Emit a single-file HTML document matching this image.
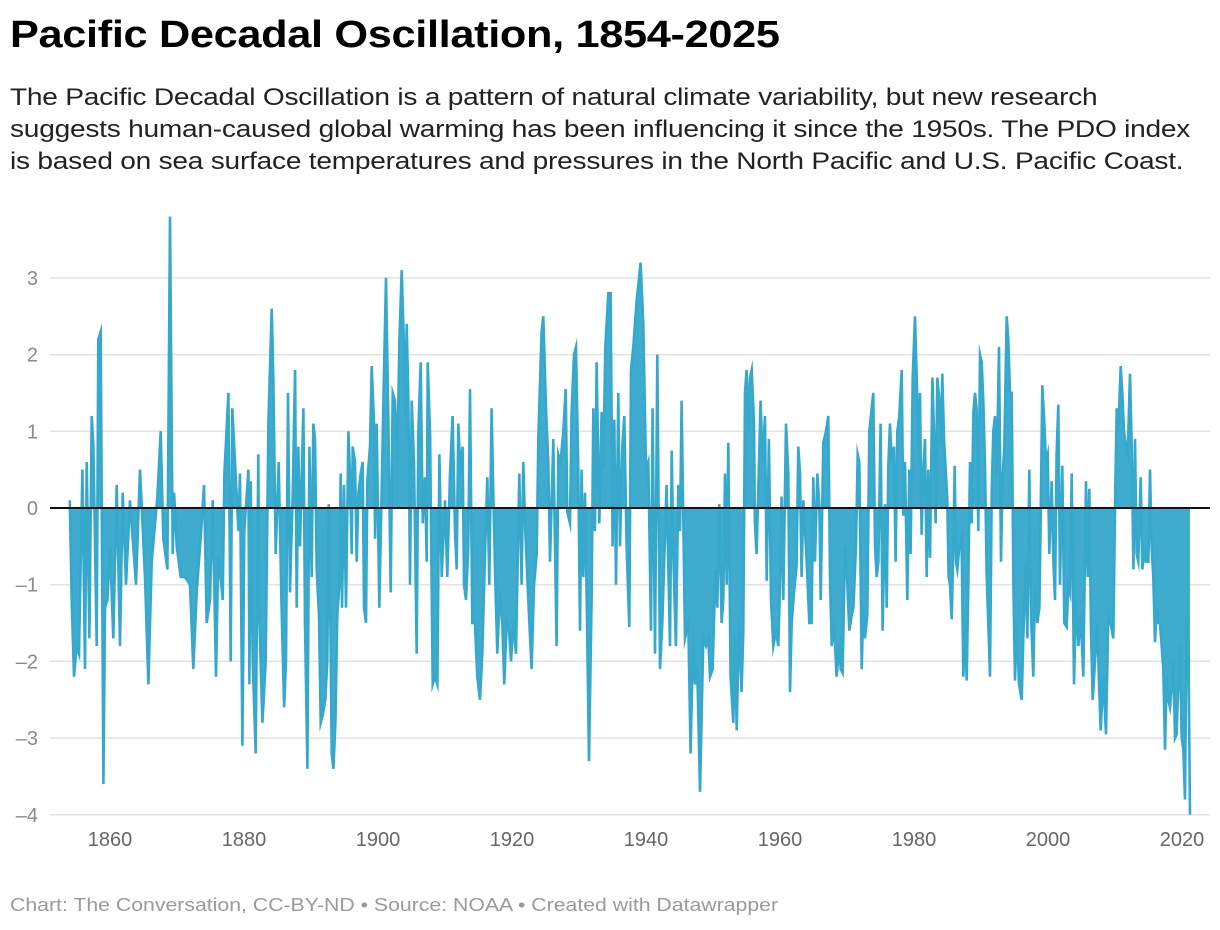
<!DOCTYPE html>
<html><head><meta charset="utf-8">
<style>
body{margin:0;background:#fff;font-family:"Liberation Sans",sans-serif;}
#wrap{position:relative;width:1220px;height:930px;overflow:hidden;}
h1{position:absolute;left:10px;top:14px;margin:0;font-size:38px;font-weight:bold;color:#000;white-space:nowrap;letter-spacing:-0.3px;transform:scaleX(1.14);transform-origin:0 0}
#sub{position:absolute;left:10px;top:82px;margin:0;font-size:24px;line-height:32px;color:#222;white-space:nowrap;letter-spacing:-0.2px;transform:scaleX(1.17);transform-origin:0 0}
#foot{position:absolute;left:10px;top:895px;font-size:18px;color:#9a9a9a;white-space:nowrap;transform:scaleX(1.18);transform-origin:0 0}
svg{position:absolute;left:0;top:0}
</style></head><body>
<div id="wrap">
<h1>Pacific Decadal Oscillation, 1854-2025</h1>
<p id="sub">The Pacific Decadal Oscillation is a pattern of natural climate variability, but new research<br>suggests human-caused global warming has been influencing it since the 1950s. The PDO index<br>is based on sea surface temperatures and pressures in the North Pacific and U.S. Pacific Coast.</p>
<svg id="chart" width="1220" height="930"></svg>
<div id="foot">Chart: The Conversation, CC-BY-ND • Source: NOAA • Created with Datawrapper</div>
</div>
<script>
const yTicks=[-4,-3,-2,-1,0,1,2,3];
const yTickLabels=["\u20134","\u20133","\u20132","\u20131","0","1","2","3"];
const xTicks=[1860,1880,1900,1920,1940,1960,1980,2000,2020];
const pdoYears=[1854.0,1854.28,1854.63,1855.03,1855.38,1855.88,1856.27,1856.52,1856.92,1857.27,1857.52,1858.01,1858.26,1858.61,1859.01,1859.26,1859.61,1860.0,1860.5,1861.0,1861.5,1861.9,1862.39,1862.99,1863.88,1864.48,1865.23,1865.73,1866.22,1867.07,1867.57,1867.96,1868.56,1868.96,1869.36,1869.56,1869.95,1870.55,1871.2,1871.94,1872.44,1872.94,1873.69,1874.03,1874.43,1874.93,1875.33,1875.82,1876.17,1876.82,1877.07,1877.67,1878.01,1878.26,1878.66,1879.16,1879.41,1879.76,1880.05,1880.65,1880.8,1881.0,1881.3,1881.75,1882.14,1882.29,1882.74,1883.24,1883.64,1884.13,1884.38,1884.73,1885.18,1885.58,1885.98,1886.27,1886.57,1886.87,1887.27,1887.62,1887.87,1888.12,1888.36,1888.86,1889.11,1889.46,1889.76,1890.1,1890.35,1890.6,1890.85,1891.2,1891.45,1891.75,1892.14,1892.44,1892.64,1892.84,1893.09,1893.34,1893.64,1893.93,1894.23,1894.43,1894.63,1894.93,1895.23,1895.58,1895.83,1896.07,1896.22,1896.57,1896.82,1897.07,1897.42,1897.72,1897.91,1898.21,1898.41,1898.81,1899.06,1899.41,1899.56,1899.81,1900.2,1900.55,1900.8,1901.2,1901.55,1901.9,1902.19,1902.54,1902.89,1903.19,1903.54,1903.88,1904.08,1904.28,1904.53,1904.78,1905.03,1905.38,1905.77,1906.02,1906.37,1906.67,1907.02,1907.27,1907.42,1907.77,1908.16,1908.51,1908.86,1909.16,1909.51,1910.0,1910.35,
1910.74,1911.14,1911.49,1911.74,1911.99,1912.33,1912.63,1912.83,1913.13,1913.48,1913.73,1914.08,1914.47,1914.82,1915.22,1915.57,1915.97,1916.31,1916.61,1916.96,1917.21,1917.46,1917.81,1918.2,1918.55,1918.85,1919.2,1919.55,1919.85,1920.2,1920.59,1921.09,1921.44,1921.69,1921.99,1922.43,1922.93,1923.28,1923.68,1923.93,1924.42,1924.67,1925.07,1925.42,1925.67,1926.17,1926.66,1926.91,1927.26,1927.66,1928.01,1928.25,1928.65,1928.9,1929.25,1929.55,1929.9,1930.15,1930.39,1930.64,1930.89,1931.14,1931.49,1931.89,1932.14,1932.38,1932.63,1933.03,1933.38,1933.63,1933.93,1934.37,1934.72,1935.02,1935.27,1935.52,1935.87,1936.12,1936.46,1936.76,1937.11,1937.51,1937.76,1938.11,1938.6,1938.85,1939.2,1939.6,1940.0,1940.34,1940.74,1940.99,1941.34,1941.69,1942.09,1942.43,1943.08,1943.58,1943.83,1944.08,1944.47,1944.82,1945.07,1945.32,1945.82,1946.31,1946.66,1947.06,1947.31,1947.66,1948.06,1948.55,1948.95,1949.3,1949.55,1949.95,1950.34,1950.64,1950.94,1951.29,1951.54,1951.79,1952.04,1952.28,1952.63,1953.03,1953.28,1953.53,1953.88,1954.27,1954.52,1954.77,1955.02,1955.27,1955.52,1955.77,1956.12,1956.26,1956.51,1956.76,1957.11,1957.41,1957.76,1958.01,1958.35,1958.65,1959.0,1959.4,1959.75,1960.0,1960.24,1960.49,1960.89,1961.24,1961.49,1961.74,1962.09,1962.48,1962.73,1962.98,1963.23,1963.48,1963.98,1964.37,1964.72,1964.97,1965.22,1965.57,1965.87,1966.07,1966.46,1966.86,1967.21,1967.46,1967.71,1968.06,1968.45,1968.95,
1969.05,1969.35,1969.7,1969.95,1970.35,1970.7,1970.95,1971.34,1971.59,1971.84,1972.19,1972.44,1972.69,1973.03,1973.33,1973.68,1973.93,1974.18,1974.43,1974.68,1975.02,1975.32,1975.67,1975.92,1976.17,1976.42,1976.67,1977.01,1977.26,1977.51,1977.81,1978.16,1978.41,1978.66,1979.0,1979.3,1979.5,1979.8,1980.15,1980.4,1980.65,1980.9,1981.14,1981.39,1981.64,1981.89,1982.14,1982.39,1982.74,1982.98,1983.23,1983.48,1983.73,1983.98,1984.23,1984.48,1984.73,1984.97,1985.17,1985.37,1985.62,1985.87,1986.07,1986.27,1986.47,1986.77,1987.11,1987.36,1987.61,1987.86,1988.11,1988.36,1988.61,1988.86,1989.1,1989.35,1989.6,1989.85,1990.1,1990.35,1990.6,1990.85,1991.09,1991.34,1991.59,1991.84,1992.09,1992.34,1992.69,1992.98,1993.23,1993.48,1993.83,1994.08,1994.33,1994.58,1994.83,1995.08,1995.32,1995.67,1996.07,1996.32,1996.67,1996.92,1997.21,1997.46,1997.81,1998.06,1998.41,1998.71,1998.9,1999.15,1999.4,1999.7,1999.95,2000.2,2000.55,2000.8,2001.05,2001.29,2001.54,2001.79,2002.14,2002.44,2002.79,2003.03,2003.28,2003.53,2003.88,2004.18,2004.53,2004.88,2005.27,2005.67,2005.92,2006.17,2006.42,2006.67,2007.02,2007.36,2007.66,2007.86,2008.26,2008.66,2009.0,2009.35,2009.75,2010.05,2010.25,2010.5,2010.85,2011.09,2011.34,2011.64,2011.89,2012.24,2012.49,2012.74,2012.98,2013.23,2013.48,2013.83,2014.08,2014.33,2014.63,2014.98,2015.23,2015.47,2015.72,2015.97,2016.22,2016.47,2016.72,2016.97,2017.21,2017.46,2017.71,2017.96,2018.21,2018.46,2018.71,2018.96,2019.2,2019.45,2019.7,2019.95,2020.2,2020.45,2020.7,2020.95,2021.2];
const pdoValues=[0.1,-1.2,-2.2,-1.8,-1.9,0.5,-2.1,0.6,-1.7,1.2,0.8,-1.8,2.2,2.3,-3.6,-1.3,-1.2,-0.5,-1.7,0.3,-1.8,0.2,-1.0,0.1,-1.0,0.5,-0.9,-2.3,-0.7,0.15,1.0,-0.4,-0.8,3.8,-0.6,0.2,-0.5,-0.9,-0.9,-1.0,-2.1,-1.1,-0.2,0.3,-1.5,-1.2,0.1,-2.2,-0.6,-1.2,0.45,1.5,-2.0,1.3,0.6,-0.3,0.45,-3.1,-0.3,0.5,-2.3,0.35,-2.0,-3.2,0.7,-1.4,-2.8,-2.0,1.1,2.6,1.7,-0.6,0.6,-1.2,-2.6,-2.0,1.5,-1.1,0.2,1.8,-1.3,0.8,-0.5,1.3,-1.5,-3.4,0.8,-0.9,1.1,0.9,-0.8,-1.4,-2.8,-2.7,-2.5,-2.0,0.05,-1.0,-3.2,-3.4,-2.8,-1.4,-1.0,0.45,-1.3,0.3,-1.3,1.0,0.4,-0.6,0.8,0.6,-0.7,0.2,0.45,0.6,-1.3,-1.5,0.35,0.8,1.85,1.1,-0.4,1.1,-1.3,0.25,1.4,3.0,1.1,-1.1,1.5,1.4,0.6,2.2,3.1,2.1,1.2,2.4,1.4,-1.0,1.4,0.6,-1.9,1.0,1.9,-0.2,0.4,-0.7,1.9,0.95,-2.3,-2.2,-2.3,0.7,-0.9,0.1,-0.9,
0.45,1.2,-0.3,-0.8,1.1,0.45,0.8,-1.0,-1.2,-0.5,1.55,-1.5,-1.5,-2.2,-2.5,-1.9,-0.6,0.4,-1.0,1.3,0.2,-0.8,-1.9,-1.1,-1.5,-2.3,-1.5,-1.6,-2.0,-1.5,-1.9,0.45,-1.0,0.6,-0.3,-1.2,-2.1,-1.0,-0.6,0.9,2.3,2.5,1.3,0.6,-0.7,0.9,-1.8,0.7,0.6,1.0,1.55,-0.05,-0.2,1.25,2.0,2.1,0.5,-1.6,0.5,-0.9,0.2,-1.1,-3.3,-1.1,1.3,-0.3,1.9,-0.2,1.25,0.5,2.1,2.8,2.8,-0.5,1.15,-1.0,1.5,-0.5,0.8,1.2,-0.5,-1.55,1.8,2.1,2.7,2.9,3.2,2.4,0.5,0.6,-1.6,1.3,-1.9,2.0,-2.1,-1.5,0.3,-1.8,0.75,-0.6,-1.8,0.3,-0.3,1.4,-1.7,-1.5,-3.2,-1.6,-2.3,-2.1,-3.7,-1.7,-1.8,-1.7,-2.2,-2.1,-0.8,-1.3,0.05,-1.5,-1.2,0.45,-1.0,0.85,-2.2,-2.8,-1.7,-2.9,-1.5,-2.4,-1.6,1.5,1.8,1.0,1.7,1.8,1.1,-0.2,-0.6,0.25,1.4,0.6,1.2,-0.95,0.9,-1.2,-1.8,-1.6,-1.8,-1.0,0.15,-1.2,1.1,0.45,-2.4,-1.5,-1.1,-0.75,0.8,0.45,-0.9,0.1,-0.7,-1.5,-1.5,0.4,-0.7,0.45,0.05,-1.2,0.85,1.0,1.2,-0.9,-1.8,-1.5,-2.2,-1.7,
-2.1,-2.15,-0.5,-0.8,-1.6,-1.4,-1.3,-0.5,0.7,0.6,-2.1,-1.3,-1.7,-1.4,1.0,1.3,1.5,-0.5,-0.9,-0.7,1.1,-1.6,0.05,-1.3,0.55,1.1,0.6,0.8,-0.7,1.0,1.2,1.8,-0.1,0.6,-1.2,0.5,-0.6,1.7,2.5,1.7,0.8,1.5,-0.35,0.5,0.9,-0.9,0.5,-0.65,1.7,1.0,-0.2,1.7,1.45,0.8,1.75,0.9,0.5,0.1,-0.9,-1.0,-1.45,-0.5,0.55,-0.7,-0.8,-0.5,-0.4,-2.2,-1.5,-2.25,-1.0,0.6,-0.2,1.25,1.5,1.3,-0.3,2.0,1.9,1.4,0.55,-0.9,-1.5,-2.2,0.2,1.0,1.2,0.4,2.1,-0.7,0.4,0.8,2.5,2.2,1.5,1.5,-1.0,-2.25,-1.5,-2.3,-2.5,-1.7,-0.7,-1.7,0.5,-1.4,-2.2,-1.0,-1.5,-1.3,-0.2,1.6,1.2,0.6,0.7,-0.6,0.35,-0.7,-1.2,0.7,1.35,-1.0,0.55,-1.5,-1.55,-1.0,-1.1,0.45,-2.3,-1.2,-1.8,-1.4,-2.2,0.35,-0.9,0.25,-1.6,-2.5,-2.0,-1.5,-2.4,-2.9,-2.2,-2.95,-1.4,-1.5,-1.7,0.25,1.3,1.0,1.85,1.5,1.0,0.8,0.7,1.75,0.8,-0.8,0.9,-0.6,-0.7,0.4,-0.8,-0.6,-0.7,-0.7,0.5,-0.5,-0.9,-1.75,-1.3,-1.5,-1.5,-1.8,-2.1,-3.15,-2.2,-2.5,-2.6,-2.35,-2.0,-3.0,-2.95,-2.3,-1.8,-3.0,-3.15,-3.8,-1.4,-1.8,-4.0];

const NS='http://www.w3.org/2000/svg';
const svg=document.getElementById('chart');
function xScale(yr){return 110+(yr-1860)*(1072/160);}
function yScale(v){return 508-v*76.7;}
function mk(tag,attrs){const e=document.createElementNS(NS,tag);for(const k in attrs)e.setAttribute(k,attrs[k]);svg.appendChild(e);return e;}

yTicks.forEach((t,i)=>{
  if(t!==0){
    const g=mk('line',{x1:50,x2:1210,y1:yScale(t),y2:yScale(t),stroke:'#e3e3e3','stroke-width':1.5});
    
    
  }
  const tx=mk('text',{x:38,y:yScale(t)+7,'text-anchor':'end','font-size':20,fill:'#8a8a8a','font-family':'Liberation Sans, sans-serif'});
  tx.textContent=yTickLabels[i];
  
  
});
xTicks.forEach(t=>{
  const tx=mk('text',{x:xScale(t),y:846,'text-anchor':'middle','font-size':20,fill:'#666','font-family':'Liberation Sans, sans-serif'});
  tx.textContent=String(t);
  
  
});
let d='';
pdoYears.forEach((yr,i)=>{d+=(i?'L':'M')+xScale(yr).toFixed(1)+','+yScale(pdoValues[i]).toFixed(1);});
const n=pdoYears.length;
const areaD=d+'L'+xScale(pdoYears[n-1]).toFixed(1)+','+yScale(0)+'L'+xScale(pdoYears[0]).toFixed(1)+','+yScale(0)+'Z';
const area=mk('path',{d:areaD,fill:'#35a8cc','fill-opacity':0.95,stroke:'none'});


const line=mk('path',{d:d,fill:'none',stroke:'#35a8cc','stroke-width':2.6,'stroke-linejoin':'miter','stroke-miterlimit':10});


const zero=mk('line',{x1:50,x2:1210,y1:yScale(0),y2:yScale(0),stroke:'#111','stroke-width':2});


</script>
</body></html>
